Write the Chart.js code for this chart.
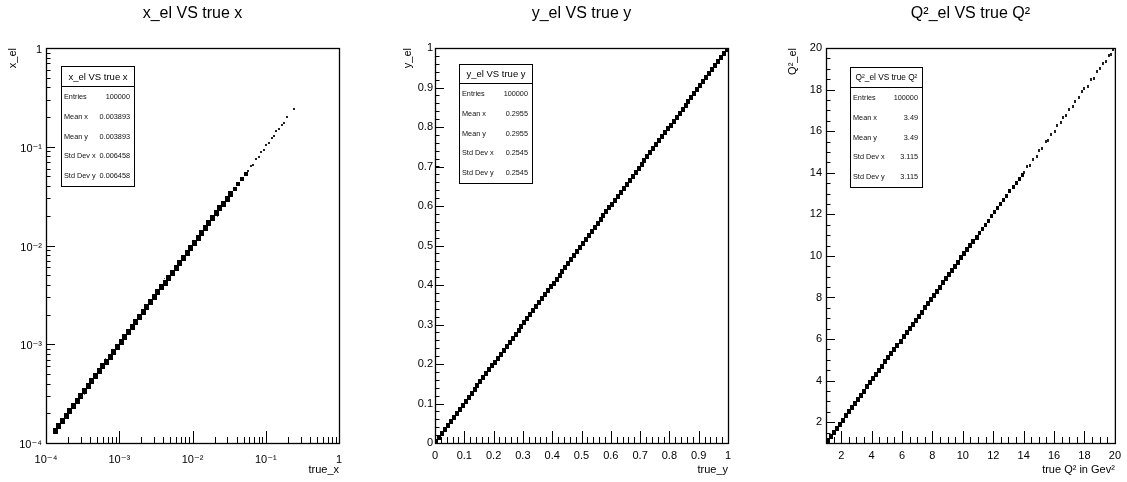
<!DOCTYPE html>
<html>
<head>
<meta charset="utf-8">
<script src="https://cdn.jsdelivr.net/npm/chart.js@4.4.1/dist/chart.umd.min.js"></script>
<style>
html,body{margin:0;padding:0;background:#fff;}
#wrap{position:relative;width:1127px;height:482px;overflow:hidden;font-family:"Liberation Sans",Arial,Helvetica,sans-serif;}
#wrap canvas{position:absolute;top:0;}
.stats{position:absolute;box-sizing:border-box;border:1px solid #000;background:#fff;color:#000;z-index:5;filter:grayscale(100%);-webkit-font-smoothing:antialiased;}
.stats .hd{box-sizing:border-box;text-align:center;font-size:9.5px;border-bottom:1px solid #000;white-space:nowrap;}
.stats .row{display:flex;justify-content:space-between;font-size:7.3px;height:19.8px;line-height:19.8px;padding:0 4px 0 2px;white-space:nowrap;color:#111;}
</style>
</head>
<body>
<div id="wrap">
  <canvas id="c1" width="375" height="482" style="left:0px"></canvas>
  <canvas id="c2" width="375" height="482" style="left:375px"></canvas>
  <canvas id="c3" width="377" height="482" style="left:750px"></canvas>
</div>
<script>
// ================= DATA (bin centres) =================
// Panel 1: x_el vs true x (log-log), filled bins along the diagonal
const xDense = [1.334e-4,1.496e-4,1.679e-4,1.884e-4,2.113e-4,2.371e-4,2.661e-4,2.985e-4,3.350e-4,3.758e-4,
  4.217e-4,4.732e-4,5.309e-4,5.957e-4,6.683e-4,7.499e-4,8.414e-4,9.441e-4,
  1.059e-3,1.189e-3,1.334e-3,1.496e-3,1.679e-3,1.884e-3,2.113e-3,2.371e-3,2.661e-3,2.985e-3,3.350e-3,3.758e-3,
  4.217e-3,4.732e-3,5.309e-3,5.957e-3,6.683e-3,7.499e-3,8.414e-3,9.441e-3,
  1.059e-2,1.189e-2,1.334e-2,1.496e-2,1.679e-2,1.884e-2,2.113e-2,2.371e-2,2.661e-2,2.985e-2,3.350e-2];
const xMid = [3.758e-2,4.217e-2,4.732e-2,5.309e-2];
const xSparseTrue = [0.058,0.063,0.068,0.074,0.080,0.087,0.094,0.102,0.110,0.120,0.130,0.140,0.152,0.165,0.180,0.195,0.240];
const xSparseEl   = [0.057,0.064,0.066,0.076,0.079,0.089,0.092,0.105,0.108,0.122,0.127,0.143,0.150,0.168,0.176,0.200,0.240];
const xNoiseTrue = [2.2e-4,3.4e-4,6.5e-4,1.6e-3,4.1e-3,9.0e-3,2.2e-2,3.1e-2];
const xNoiseEl   = [2.0e-4,3.1e-4,7.2e-4,1.45e-3,4.6e-3,8.1e-3,1.95e-2,3.5e-2];

// Panel 2: y_el vs true y
const yBins = [0.005,0.015,0.025,0.035,0.045,0.055,0.065,0.075,0.085,0.095,
  0.105,0.115,0.125,0.135,0.145,0.155,0.165,0.175,0.185,0.195,
  0.205,0.215,0.225,0.235,0.245,0.255,0.265,0.275,0.285,0.295,
  0.305,0.315,0.325,0.335,0.345,0.355,0.365,0.375,0.385,0.395,
  0.405,0.415,0.425,0.435,0.445,0.455,0.465,0.475,0.485,0.495,
  0.505,0.515,0.525,0.535,0.545,0.555,0.565,0.575,0.585,0.595,
  0.605,0.615,0.625,0.635,0.645,0.655,0.665,0.675,0.685,0.695,
  0.705,0.715,0.725,0.735,0.745,0.755,0.765,0.775,0.785,0.795,
  0.805,0.815,0.825,0.835,0.845,0.855,0.865,0.875,0.885,0.895,
  0.905,0.915,0.925,0.935,0.945,0.955,0.965,0.975,0.985,0.995];

// Panel 3: Q2_el vs true Q2
const q2Dense = [1.1,1.3,1.5,1.7,1.9,2.1,2.3,2.5,2.7,2.9,3.1,3.3,3.5,3.7,3.9,4.1,4.3,4.5,4.7,4.9,
  5.1,5.3,5.5,5.7,5.9,6.1,6.3,6.5,6.7,6.9,7.1,7.3,7.5,7.7,7.9,8.1,8.3,8.5,8.7,8.9,
  9.1,9.3,9.5,9.7,9.9,10.1,10.3,10.5,10.7,10.9];
const q2Mid = [11.1,11.3,11.5,11.7,11.9,12.1,12.3,12.5,12.7,12.9,13.1,13.3,13.5,13.7,13.9];
const q2SparseTrue = [14.05,14.25,14.4,14.6,14.85,15.0,15.2,15.45,15.6,15.8,16.05,16.2,16.45,16.6,16.8,17.0,17.25,17.4,
  17.65,17.85,18.0,18.2,18.45,18.6,18.8,19.05,19.2,19.4,19.6,19.75,19.9];
const q2SparseEl   = [14.0,14.3,14.35,14.65,14.8,15.05,15.15,15.5,15.55,15.85,16.0,16.25,16.4,16.65,16.75,17.05,17.2,17.45,
  17.6,17.9,18.05,18.15,18.5,18.55,18.85,19.0,19.25,19.35,19.65,19.7,19.95];

// Tick values and labels
const logTicks = [1e-4,1e-3,1e-2,1e-1,1];
const logTickLabels = ['10\u207B\u2074','10\u207B\u00B3','10\u207B\u00B2','10\u207B\u00B9','1'];
const linTicks = [0,0.1,0.2,0.3,0.4,0.5,0.6,0.7,0.8,0.9,1];
const linTickLabels = ['0','0.1','0.2','0.3','0.4','0.5','0.6','0.7','0.8','0.9','1'];
const q2Ticks = [2,4,6,8,10,12,14,16,18,20];
const q2TickLabels = ['2','4','6','8','10','12','14','16','18','20'];

// Stats boxes
const statLabels = ['Entries','Mean x','Mean y','Std Dev x','Std Dev y'];
const xStats  = ['100000','0.003893','0.003893','0.006458','0.006458'];
const yStats  = ['100000','0.2955','0.2955','0.2545','0.2545'];
const q2Stats = ['100000','3.49','3.49','3.115','3.115'];

// ================= RENDERING =================
const FONT = "'Liberation Sans', Arial, Helvetica, 'DejaVu Sans', sans-serif";

function box(w, h, color) {
  const c = document.createElement('canvas');
  c.width = w; c.height = h;
  const g = c.getContext('2d');
  g.fillStyle = color; g.fillRect(0, 0, w, h);
  return c;
}
function diag(arr) { return arr.map(v => ({x: v, y: v})); }
function pairs(xs, ys) { return xs.map((v, i) => ({x: v, y: ys[i]})); }

function logMinors() {
  const out = [];
  [1e-4,1e-3,1e-2,1e-1].forEach(d => { for (let m = 2; m <= 9; m++) out.push(m * d); });
  return out;
}
function linMinors(min, max, step) {
  const out = []; const n = Math.round((max - min) / step);
  for (let i = 0; i <= n; i++) out.push(min + i * step);
  return out;
}

const rootFrame = {
  id: 'rootFrame',
  afterDraw(chart, args, o) {
    const {ctx, chartArea: a, scales: {x, y}} = chart;
    ctx.save();
    ctx.strokeStyle = '#000';
    ctx.lineWidth = 1;
    ctx.beginPath();
    const xt = (vals, len) => vals.forEach(v => {
      if (v < x.min - 1e-12 || v > x.max + 1e-12) return;
      const px = Math.round(x.getPixelForValue(v)) + 0.5;
      ctx.moveTo(px, a.bottom); ctx.lineTo(px, a.bottom - len);
    });
    const yt = (vals, len) => vals.forEach(v => {
      if (v < y.min - 1e-12 || v > y.max + 1e-12) return;
      const py = Math.round(y.getPixelForValue(v)) + 0.5;
      ctx.moveTo(a.left, py); ctx.lineTo(a.left + len, py);
    });
    xt(o.xMajor, 12); xt(o.xMinor, 6);
    yt(o.yMajor, 9); yt(o.yMinor, 4.5);
    ctx.stroke();
    ctx.lineWidth = 1.3;
    ctx.strokeRect(a.left + 0.5, a.top + 0.5, a.right - a.left, a.bottom - a.top);
    ctx.restore();
  }
};

function scaleCfg(kind, axis, opt) {
  const base = {
    type: opt.type, min: opt.min, max: opt.max,
    grid: {display: false, drawTicks: false},
    border: {display: false},
    afterBuildTicks: s => { s.ticks = opt.ticks.map(v => ({value: v})); },
    ticks: {
      autoSkip: false, maxRotation: 0, minRotation: 0,
      color: '#000', font: {family: FONT, size: 11},
      padding: opt.tickPad, labelOffset: opt.labelOffset || 0,
      callback: (v, i) => opt.labels[i]
    },
    title: {
      display: true, text: opt.title, align: 'end', color: '#000',
      font: {family: FONT, size: 11},
      padding: axis === 'x' ? {top: 0, bottom: 5.4} : {top: 6.4, bottom: 0}
    }
  };
  if (axis === 'x') base.afterFit = s => { s.height = 39; };
  else base.afterFit = s => { s.width = opt.width; };
  return base;
}

function makeChart(id, cfg) {
  return new Chart(document.getElementById(id), {
    type: 'scatter',
    data: {datasets: cfg.datasets.map(d => ({
      label: d.label, data: d.data, pointStyle: d.style, pointRadius: 2,
      pointHoverRadius: 2, showLine: false, clip: 0, backgroundColor: '#000', borderColor: '#000'
    }))},
    options: {
      responsive: false, animation: false, events: [],
      devicePixelRatio: 1,
      layout: {padding: cfg.padding},
      plugins: {
        legend: {display: false}, tooltip: {enabled: false},
        title: {display: true, text: cfg.title, fullSize: false, color: '#000',
          font: {family: FONT, size: 16, weight: 'normal'}, padding: {top: 4, bottom: 24.8}},
        rootFrame: cfg.frame
      },
      scales: {x: cfg.x, y: cfg.y}
    },
    plugins: [rootFrame]
  });
}

// Panel 1
makeChart('c1', {
  title: 'x_el VS true x',
  padding: {left: 0, right: 36, top: 0, bottom: 0},
  datasets: [
    {label: 'bins', data: diag(xDense), style: box(5, 6, '#000')},
    {label: 'mid', data: diag(xMid), style: box(4, 4, '#000')},
    {label: 'sparse', data: pairs(xSparseTrue, xSparseEl), style: box(2, 2, '#222')},
    {label: 'noise', data: pairs(xNoiseTrue, xNoiseEl), style: box(1, 1, '#666')}
  ],
  x: scaleCfg('x', 'x', {type: 'logarithmic', min: 1e-4, max: 1, ticks: logTicks, labels: logTickLabels, tickPad: 10, title: 'true_x'}),
  y: scaleCfg('y', 'y', {type: 'logarithmic', min: 1e-4, max: 1, ticks: logTicks, labels: logTickLabels, tickPad: 4, labelOffset: 2, width: 46, title: 'x_el'}),
  frame: {xMajor: logTicks, xMinor: logMinors(), yMajor: logTicks, yMinor: logMinors()}
});

// Panel 2
makeChart('c2', {
  title: 'y_el VS true y',
  padding: {left: 20, right: 22, top: 0, bottom: 0},
  datasets: [
    {label: 'bins', data: diag(yBins), style: box(4, 5, '#000')}
  ],
  x: scaleCfg('x', 'x', {type: 'linear', min: 0, max: 1, ticks: linTicks, labels: linTickLabels, tickPad: 6, title: 'true_y'}),
  y: scaleCfg('y', 'y', {type: 'linear', min: 0, max: 1, ticks: linTicks, labels: linTickLabels, tickPad: 2, width: 40, title: 'y_el'}),
  frame: {xMajor: linTicks, xMinor: linMinors(0, 1, 0.02), yMajor: linTicks, yMinor: linMinors(0, 1, 0.02)}
});

// Panel 3
makeChart('c3', {
  title: 'Q\u00B2_el VS true Q\u00B2',
  padding: {left: 30, right: 9, top: 0, bottom: 0},
  datasets: [
    {label: 'bins', data: diag(q2Dense), style: box(4, 5, '#000')},
    {label: 'mid', data: diag(q2Mid), style: box(3, 4, '#000')},
    {label: 'sparse', data: pairs(q2SparseTrue, q2SparseEl), style: box(2, 3, '#222')}
  ],
  x: scaleCfg('x', 'x', {type: 'linear', min: 1, max: 20, ticks: q2Ticks, labels: q2TickLabels, tickPad: 6, title: 'true Q\u00B2 in Gev\u00B2'}),
  y: scaleCfg('y', 'y', {type: 'linear', min: 1, max: 20, ticks: q2Ticks, labels: q2TickLabels, tickPad: 4, width: 46, title: 'Q\u00B2_el'}),
  frame: {xMajor: q2Ticks, xMinor: linMinors(1, 20, 0.5), yMajor: q2Ticks, yMinor: linMinors(1, 20, 0.5)}
});

// Stats boxes (HTML text)
function statsBox(title, values, left, top, width, headH, headFont) {
  const d = document.createElement('div');
  d.className = 'stats';
  d.style.left = left + 'px'; d.style.top = top + 'px'; d.style.width = width + 'px';
  const hd = document.createElement('div');
  hd.className = 'hd'; hd.textContent = title;
  hd.style.height = headH + 'px'; hd.style.lineHeight = (headH - 1) + 'px';
  hd.style.fontSize = headFont + 'px';
  d.appendChild(hd);
  statLabels.forEach((lab, i) => {
    const r = document.createElement('div');
    r.className = 'row';
    const a = document.createElement('span'); a.textContent = lab;
    const b = document.createElement('span'); b.textContent = values[i];
    r.appendChild(a); r.appendChild(b);
    d.appendChild(r);
  });
  document.getElementById('wrap').appendChild(d);
}
statsBox('x_el VS true x', xStats, 61, 66, 74, 20, 9.5);
statsBox('y_el VS true y', yStats, 459, 64, 74, 19, 9.5);
statsBox('Q\u00B2_el VS true Q\u00B2', q2Stats, 850, 67, 73, 20, 8.3);
</script>
</body>
</html>
